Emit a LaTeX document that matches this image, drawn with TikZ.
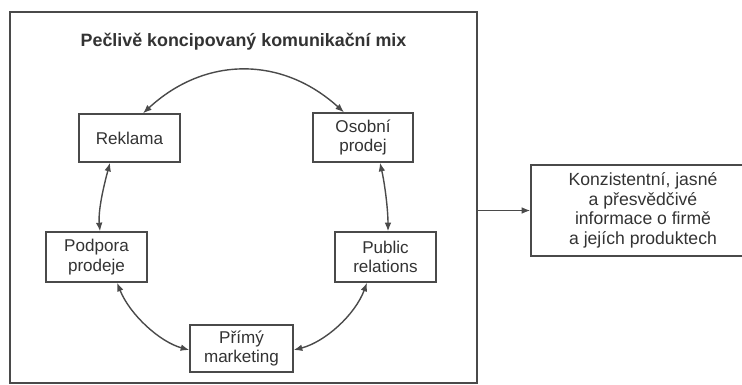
\documentclass[tikz,border=0pt]{standalone}
\usepackage{fontspec}
\setmainfont{Liberation Sans}
\usetikzlibrary{arrows.meta}
\definecolor{ink}{HTML}{333333}
\definecolor{linegray}{HTML}{4A4A4A}
\tikzset{
  boxnode/.style={draw=linegray, line width=1pt, align=center, text=ink, font=\fontsize{12.8}{14.5}\selectfont, inner sep=0pt},
  link/.style={draw=linegray, line width=1.05pt, {Latex[length=6.5pt,width=5pt]}-{Latex[length=6.5pt,width=5pt]}},
  onelink/.style={draw=linegray, line width=1.05pt, -{Latex[length=6.5pt,width=5pt]}},
}
\begin{document}
\begin{tikzpicture}[x=0.75pt,y=-0.75pt]
\useasboundingbox (0,0) rectangle (742,385);
\clip (0,0) rectangle (742,385);
\fill[white] (0,0) rectangle (742,385);
% outer frame
\node[draw=linegray, line width=1pt, minimum width=467*0.75pt, minimum height=371*0.75pt, inner sep=0pt] (frame) at (243.5,197.5) {};
\node[text=ink, font=\fontsize{13.4}{15}\selectfont\bfseries] (title) at (243.5,42) {Pečlivě koncipovaný komunikační mix};
% boxes
\node[boxnode, minimum width=101*0.75pt, minimum height=48*0.75pt] (rek) at (129.5,138) {Reklama};
\node[boxnode, minimum width=100*0.75pt, minimum height=49*0.75pt] (osob) at (363,137.5) {Osobní\\prodej};
\node[boxnode, minimum width=101*0.75pt, minimum height=50*0.75pt] (podp) at (96.5,257) {Podpora\\prodeje};
\node[boxnode, minimum width=101*0.75pt, minimum height=50*0.75pt] (pub) at (385.5,257) {Public\\relations};
\node[boxnode, minimum width=103*0.75pt, minimum height=47*0.75pt] (prim) at (241.5,348.5) {Přímý\\marketing};
\node[boxnode, minimum width=224*0.75pt, minimum height=91*0.75pt, font=\fontsize{13.2}{14.6}\selectfont] (info) at (643,210.5) {Konzistentní, jasné\\a přesvědčivé\\informace o firmě\\a jejích produktech};
% connectors
\draw[link] ([xshift=13.5*0.75pt]rek.north) .. controls (205,56) and (282,56) .. ([xshift=-19*0.75pt]osob.north);
\draw[link] ([xshift=-19.5*0.75pt]rek.south) .. controls (104,185) and (98,210) .. ([xshift=3.5*0.75pt]podp.north);
\draw[link] ([xshift=17*0.75pt]osob.south) .. controls (385,185) and (388,210) .. ([xshift=2.5*0.75pt]pub.north);
\draw[link] ([xshift=20.5*0.75pt]podp.south) .. controls (130,315) and (160,342) .. ([yshift=-1.5*0.75pt]prim.west);
\draw[link] ([xshift=-18.5*0.75pt]pub.south) .. controls (355,315) and (325,342) .. ([yshift=-1.5*0.75pt]prim.east);
\draw[onelink] (frame.east |- info.west) -- (info.west);
\end{tikzpicture}
\end{document}
